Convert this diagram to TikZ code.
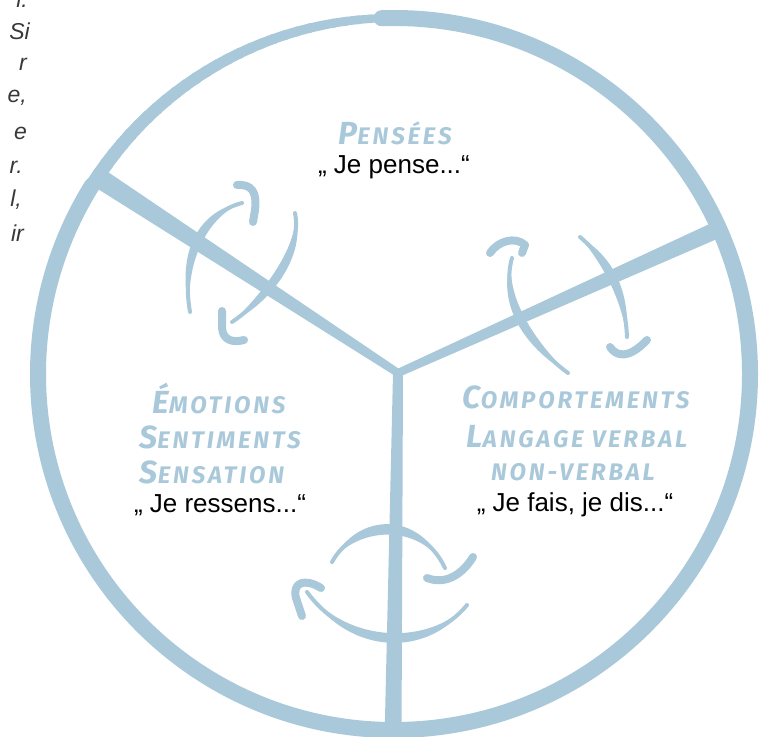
\documentclass[tikz,border=0pt]{standalone}
\usepackage{fontspec}
\setmainfont{Liberation Sans}
\newfontfamily\headfont{Fira Sans}[LetterSpace=12]
\usetikzlibrary{calc}
\definecolor{brushblue}{HTML}{A9C9DA}
\definecolor{sidegray}{HTML}{383838}
% small caps by hand: first letter large, the rest smaller
\newcommand\capword[2]{{\fontsize{32}{32}\selectfont #1}{\fontsize{24}{24}\selectfont #2}}
% tapered brush arc: start, control 1, control 2, end, half width
\newcommand\brusharc[5]{%
  \fill[brushblue] (#1) .. controls ($(#2)!#5!90:(#3)$) and ($(#3)!#5!-90:(#2)$) .. (#4)
    .. controls ($(#3)!#5!90:(#2)$) and ($(#2)!#5!-90:(#3)$) .. cycle;
  \draw[brushblue,line width=4pt,line cap=round] (#1) .. controls (#2) and (#3) .. (#4);}

\begin{document}
\begin{tikzpicture}[x=1pt,y=-1pt,
  heading/.style={text=brushblue,font=\headfont\bfseries\itshape,inner sep=0pt},
  saying/.style={font=\fontsize{26}{26}\selectfont,inner sep=0pt},
  margintext/.style={anchor=east,text=sidegray,font=\fontsize{23}{23}\selectfont\itshape,inner sep=0pt},
  hook/.style={draw=brushblue,line width=8pt,line cap=round,line join=round}]
\useasboundingbox (0,0) rectangle (760,736);

% cut-off lines of the neighbouring text
\foreach \t/\yy/\xx [count=\i] in {l./-1/28, Si/31/30, r/64/27, {e,}/98/27, e/133/27, r./167/23, {l,}/200/22, ir/233/24}
  \node[margintext] (side\i) at (\xx,\yy) {\t};

% wheel
\coordinate (mid) at (394,374);
\draw[brushblue,line width=16pt,line cap=round] ($(mid)+(-92:356)$) arc[start angle=-92,end angle=212,radius=356];
\foreach \a [evaluate=\a as \w using {14-(\a-210)*6/58}] in {210,212,...,266}
  \draw[brushblue,line width=\w pt] ($(mid)+(\a:356)$) arc[start angle=\a,end angle=\a+2.5,radius=356];

% spokes
\coordinate (hub) at (398,373);
\coordinate (lend) at (96,176);
\coordinate (rend) at (721,228);
\coordinate (bend) at (393,740);
\fill[brushblue] ($(hub)!4pt!90:(lend)$) -- ($(lend)!10pt!-90:(hub)$) -- ($(lend)!10pt!90:(hub)$) -- ($(hub)!4pt!-90:(lend)$) -- cycle;
\fill[brushblue] ($(hub)!4pt!90:(rend)$) -- ($(rend)!8.5pt!-90:(hub)$) -- ($(rend)!8.5pt!90:(hub)$) -- ($(hub)!4pt!-90:(rend)$) -- cycle;
\fill[brushblue] ($(hub)!5pt!90:(bend)$) -- ($(bend)!8.5pt!-90:(hub)$) -- ($(bend)!8.5pt!90:(hub)$) -- ($(hub)!5pt!-90:(bend)$) -- cycle;

% turning arrows, upper left
\brusharc{242,203}{205,212}{180,255}{190,312}{6pt}
\brusharc{295,213}{303,252}{265,300}{232,322}{6pt}
\draw[hook] (237,185) .. controls (252,184) and (257,192) .. (255,210) -- (253,222);
\draw[hook] (222,311) -- (222,328) .. controls (223,340) and (232,343) .. (244,340);

% turning arrows, right
\brusharc{512,258}{500,300}{530,345}{568,373}{6pt}
\brusharc{580,237}{605,258}{625,290}{627,337}{6pt}
\draw[hook] (490,253) .. controls (498,241) and (515,236) .. (525,245) -- (522,253);
\draw[hook] (610,347) .. controls (616,356) and (628,360) .. (647,340);

% turning arrows, bottom
\brusharc{332,562}{355,520}{420,515}{445,568}{7pt}
\brusharc{467,605}{430,651}{350,651}{307,592}{6.5pt}
\draw[hook] (427,578) .. controls (445,585) and (462,575) .. (473,557);
\draw[hook] (321,588) .. controls (305,578) and (292,582) .. (296,598) -- (302,616);

% texts
\node[heading] (pens) at (395,133) {\capword{P}{ENSÉES}};
\node[saying] (pensq) at (394,167) {„ Je pense...“};

\node[heading] (emo) at (219,398) {\capword{É}{MOTIONS}};
\node[heading] (senti) at (220,437) {\capword{S}{ENTIMENTS}};
\node[heading] (sensa) at (212,472) {\capword{S}{ENSATION}};
\node[saying] (emoq) at (220,505) {„ Je ressens...“};

\node[heading] (comp) at (576,397) {\capword{C}{OMPORTEMENTS}};
\node[heading] (lang) at (577,437) {\capword{L}{ANGAGE VERBAL}};
\node[heading] (nonv) at (573,472) {{\fontsize{24}{24}\selectfont NON-VERBAL}};
\node[saying] (compq) at (575,505) {„ Je fais, je dis...“};
\end{tikzpicture}
\end{document}
